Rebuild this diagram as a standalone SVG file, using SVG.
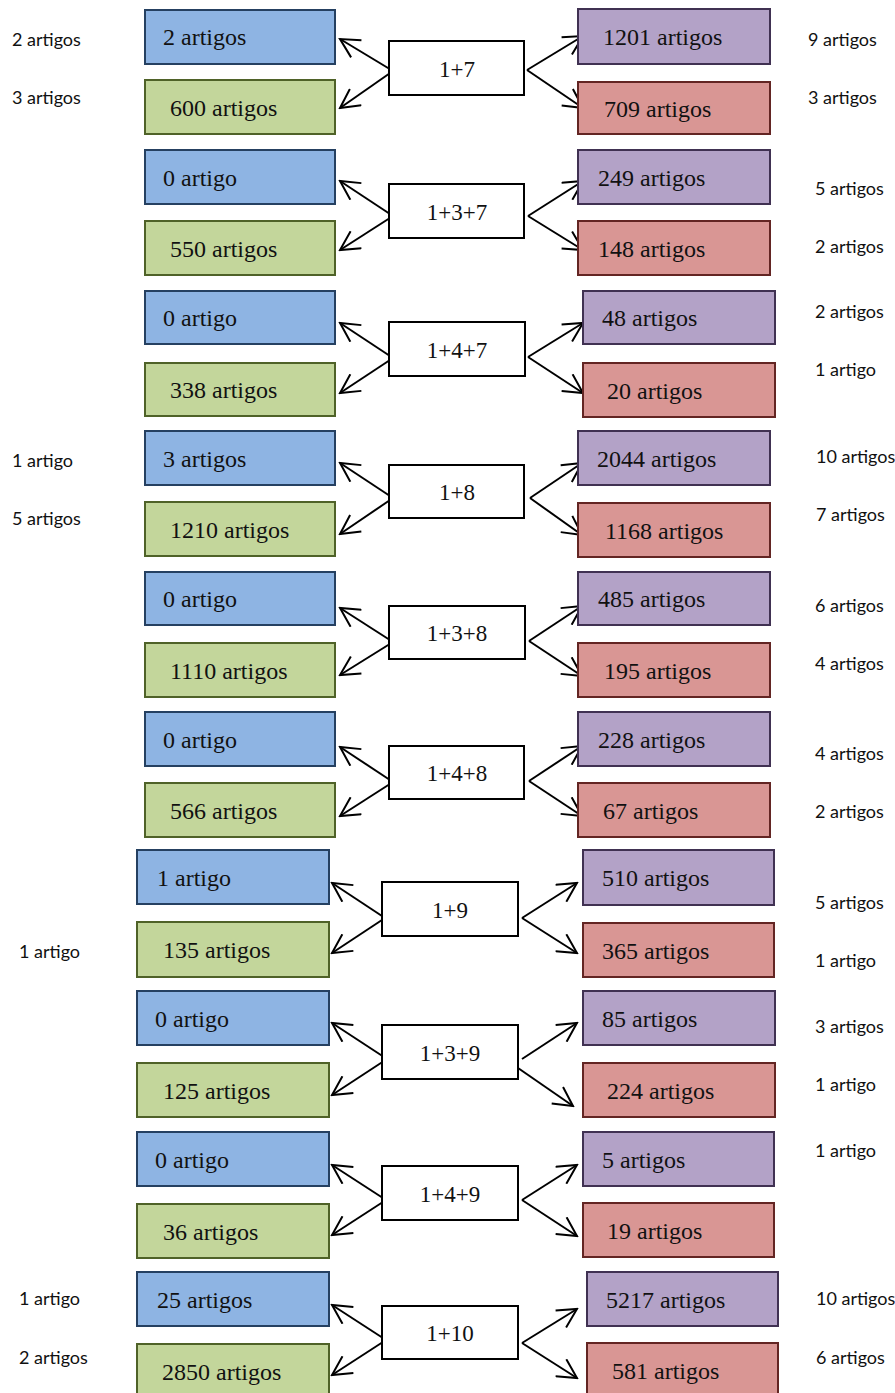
<svg xmlns="http://www.w3.org/2000/svg" width="895" height="1393" viewBox="0 0 895 1393">
<style>
.b{fill:#8EB4E3;stroke:#254061;stroke-width:2}
.g{fill:#C3D69B;stroke:#4F6228;stroke-width:2}
.p{fill:#B3A2C7;stroke:#403152;stroke-width:2}
.r{fill:#D99694;stroke:#632523;stroke-width:2}
.c{fill:#fff;stroke:#000;stroke-width:2}
.t{font-family:"Liberation Serif","Times New Roman",serif;font-size:24px;fill:#111}
.ct{font-family:"Liberation Serif","Times New Roman",serif;font-size:23px;fill:#111;text-anchor:middle}
.s{font-family:Lato,"Liberation Sans",sans-serif;font-size:18px;fill:#111}
.a{stroke:#000;stroke-width:2;fill:none;marker-end:url(#ah)}
</style>
<defs>
<marker id="ah" viewBox="0 0 22 22" refX="20" refY="11" markerWidth="22" markerHeight="22" markerUnits="userSpaceOnUse" orient="auto">
<path d="M1,1 L20,11 L1,21" fill="none" stroke="#000" stroke-width="2"/>
</marker>
</defs>
<rect width="895" height="1393" fill="#fff"/>

<g id="connectors">
<path class="a" d="M393,71 L340,39"/><path class="a" d="M393,71 L340,108"/>
<path class="a" d="M527,70 L583,36"/><path class="a" d="M527,70 L583,108"/>
<path class="a" d="M393,216 L340,181"/><path class="a" d="M393,216 L340,250"/>
<path class="a" d="M528,216 L583,181"/><path class="a" d="M528,216 L583,250"/>
<path class="a" d="M393,358 L340,323"/><path class="a" d="M393,358 L340,393"/>
<path class="a" d="M528,357 L583,323"/><path class="a" d="M528,357 L583,393"/>
<path class="a" d="M393,498 L340,463"/><path class="a" d="M393,498 L340,534"/>
<path class="a" d="M530,498 L582,463"/><path class="a" d="M530,498 L582,535"/>
<path class="a" d="M393,642 L340,608"/><path class="a" d="M393,642 L340,675"/>
<path class="a" d="M529,641 L582,606"/><path class="a" d="M529,641 L582,676"/>
<path class="a" d="M393,782 L340,747"/><path class="a" d="M393,782 L340,816"/>
<path class="a" d="M529,781 L582,746"/><path class="a" d="M529,781 L582,816"/>
<path class="a" d="M385,918 L332,883"/><path class="a" d="M385,918 L332,953"/>
<path class="a" d="M522,918 L577,883"/><path class="a" d="M522,918 L577,953"/>
<path class="a" d="M387,1059 L332,1023"/><path class="a" d="M387,1059 L332,1095"/>
<path class="a" d="M522,1059 L577,1023"/><path class="a" d="M518,1068 L573,1106"/>
<path class="a" d="M386,1200 L332,1165"/><path class="a" d="M386,1200 L332,1235"/>
<path class="a" d="M522,1200 L577,1165"/><path class="a" d="M522,1200 L577,1236"/>
<path class="a" d="M386,1340 L332,1305"/><path class="a" d="M386,1340 L332,1375"/>
<path class="a" d="M522,1343 L577,1309"/><path class="a" d="M522,1343 L577,1378"/>
</g>

<g id="g1">
<rect class="b" x="145" y="10" width="190" height="54"/><text class="t" x="163" y="45">2 artigos</text>
<rect class="g" x="145" y="80" width="190" height="54"/><text class="t" x="170" y="116">600 artigos</text>
<rect class="c" x="389" y="41" width="135" height="54"/><text class="ct" x="457" y="77">1+7</text>
<rect class="p" x="578" y="9" width="192" height="55"/><text class="t" x="603" y="45">1201 artigos</text>
<rect class="r" x="578" y="82" width="192" height="52"/><text class="t" x="604" y="117">709 artigos</text>
</g>
<g id="g2">
<rect class="b" x="145" y="150" width="190" height="54"/><text class="t" x="163" y="186">0 artigo</text>
<rect class="g" x="145" y="221" width="190" height="54"/><text class="t" x="170" y="257">550 artigos</text>
<rect class="c" x="389" y="184" width="135" height="54"/><text class="ct" x="457" y="220">1+3+7</text>
<rect class="p" x="578" y="150" width="192" height="54"/><text class="t" x="598" y="186">249 artigos</text>
<rect class="r" x="578" y="221" width="192" height="54"/><text class="t" x="598" y="257">148 artigos</text>
</g>
<g id="g3">
<rect class="b" x="145" y="291" width="190" height="53"/><text class="t" x="163" y="326">0 artigo</text>
<rect class="g" x="145" y="363" width="190" height="53"/><text class="t" x="170" y="398">338 artigos</text>
<rect class="c" x="389" y="322" width="136" height="54"/><text class="ct" x="457" y="358">1+4+7</text>
<rect class="p" x="583" y="291" width="192" height="53"/><text class="t" x="602" y="326">48 artigos</text>
<rect class="r" x="583" y="363" width="192" height="54"/><text class="t" x="607" y="399">20 artigos</text>
</g>
<g id="g4">
<rect class="b" x="145" y="431" width="190" height="54"/><text class="t" x="163" y="467">3 artigos</text>
<rect class="g" x="145" y="502" width="190" height="54"/><text class="t" x="170" y="538">1210 artigos</text>
<rect class="c" x="389" y="465" width="135" height="53"/><text class="ct" x="457" y="500">1+8</text>
<rect class="p" x="578" y="431" width="192" height="54"/><text class="t" x="597" y="467">2044 artigos</text>
<rect class="r" x="578" y="503" width="192" height="54"/><text class="t" x="605" y="539">1168 artigos</text>
</g>
<g id="g5">
<rect class="b" x="145" y="572" width="190" height="53"/><text class="t" x="163" y="607">0 artigo</text>
<rect class="g" x="145" y="643" width="190" height="54"/><text class="t" x="170" y="679">1110 artigos</text>
<rect class="c" x="389" y="606" width="136" height="53"/><text class="ct" x="457" y="641">1+3+8</text>
<rect class="p" x="578" y="572" width="192" height="53"/><text class="t" x="598" y="607">485 artigos</text>
<rect class="r" x="578" y="643" width="192" height="54"/><text class="t" x="604" y="679">195 artigos</text>
</g>
<g id="g6">
<rect class="b" x="145" y="712" width="190" height="54"/><text class="t" x="163" y="748">0 artigo</text>
<rect class="g" x="145" y="783" width="190" height="54"/><text class="t" x="170" y="819">566 artigos</text>
<rect class="c" x="389" y="746" width="135" height="53"/><text class="ct" x="457" y="781">1+4+8</text>
<rect class="p" x="578" y="712" width="192" height="54"/><text class="t" x="598" y="748">228 artigos</text>
<rect class="r" x="578" y="783" width="192" height="54"/><text class="t" x="603" y="819">67 artigos</text>
</g>
<g id="g7">
<rect class="b" x="137" y="850" width="192" height="54"/><text class="t" x="157" y="886">1 artigo</text>
<rect class="g" x="137" y="922" width="192" height="55"/><text class="t" x="163" y="958">135 artigos</text>
<rect class="c" x="382" y="882" width="136" height="54"/><text class="ct" x="450" y="918">1+9</text>
<rect class="p" x="583" y="850" width="191" height="55"/><text class="t" x="602" y="886">510 artigos</text>
<rect class="r" x="583" y="923" width="191" height="54"/><text class="t" x="602" y="959">365 artigos</text>
</g>
<g id="g8">
<rect class="b" x="137" y="991" width="192" height="54"/><text class="t" x="155" y="1027">0 artigo</text>
<rect class="g" x="137" y="1063" width="192" height="54"/><text class="t" x="163" y="1099">125 artigos</text>
<rect class="c" x="382" y="1025" width="136" height="54"/><text class="ct" x="450" y="1061">1+3+9</text>
<rect class="p" x="583" y="991" width="192" height="54"/><text class="t" x="602" y="1027">85 artigos</text>
<rect class="r" x="583" y="1063" width="192" height="54"/><text class="t" x="607" y="1099">224 artigos</text>
</g>
<g id="g9">
<rect class="b" x="137" y="1132" width="192" height="54"/><text class="t" x="155" y="1168">0 artigo</text>
<rect class="g" x="137" y="1204" width="192" height="54"/><text class="t" x="163" y="1240">36 artigos</text>
<rect class="c" x="382" y="1166" width="136" height="54"/><text class="ct" x="450" y="1202">1+4+9</text>
<rect class="p" x="583" y="1132" width="191" height="54"/><text class="t" x="602" y="1168">5 artigos</text>
<rect class="r" x="583" y="1203" width="191" height="54"/><text class="t" x="607" y="1239">19 artigos</text>
</g>
<g id="g10">
<rect class="b" x="137" y="1272" width="192" height="54"/><text class="t" x="157" y="1308">25 artigos</text>
<rect class="g" x="137" y="1344" width="192" height="54"/><text class="t" x="162" y="1380">2850 artigos</text>
<rect class="c" x="382" y="1306" width="136" height="53"/><text class="ct" x="450" y="1341">1+10</text>
<rect class="p" x="587" y="1272" width="191" height="54"/><text class="t" x="606" y="1308">5217 artigos</text>
<rect class="r" x="587" y="1343" width="191" height="54"/><text class="t" x="612" y="1379">581 artigos</text>
</g>

<g id="side-labels">
<text class="s" x="12" y="46">2 artigos</text>
<text class="s" x="12" y="104">3 artigos</text>
<text class="s" x="12" y="467">1 artigo</text>
<text class="s" x="12" y="525">5 artigos</text>
<text class="s" x="19" y="958">1 artigo</text>
<text class="s" x="19" y="1305">1 artigo</text>
<text class="s" x="19" y="1364">2 artigos</text>
<text class="s" x="808" y="46">9 artigos</text>
<text class="s" x="808" y="104">3 artigos</text>
<text class="s" x="815" y="195">5 artigos</text>
<text class="s" x="815" y="253">2 artigos</text>
<text class="s" x="815" y="318">2 artigos</text>
<text class="s" x="815" y="376">1 artigo</text>
<text class="s" x="816" y="463">10 artigos</text>
<text class="s" x="816" y="521">7 artigos</text>
<text class="s" x="815" y="612">6 artigos</text>
<text class="s" x="815" y="670">4 artigos</text>
<text class="s" x="815" y="760">4 artigos</text>
<text class="s" x="815" y="818">2 artigos</text>
<text class="s" x="815" y="909">5 artigos</text>
<text class="s" x="815" y="967">1 artigo</text>
<text class="s" x="815" y="1033">3 artigos</text>
<text class="s" x="815" y="1091">1 artigo</text>
<text class="s" x="815" y="1157">1 artigo</text>
<text class="s" x="816" y="1305">10 artigos</text>
<text class="s" x="816" y="1364">6 artigos</text>
</g>
</svg>
